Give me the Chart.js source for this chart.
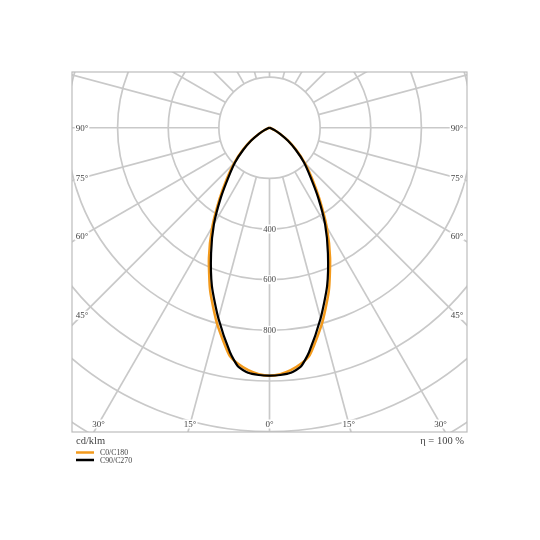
<!DOCTYPE html>
<html>
<head>
<meta charset="utf-8">
<script src="https://cdn.jsdelivr.net/npm/chart.js@4.4.1/dist/chart.umd.min.js"></script>
<style>
html, body { margin: 0; padding: 0; background: #fff; }
#wrap { width: 540px; height: 540px; }
</style>
</head>
<body>
<div id="wrap"><canvas id="ldc" width="540" height="540"></canvas></div>
<script>
// gamma angles (deg from nadir) and intensities in cd/klm, one half of each plane
var angles = [0, 2.5, 5, 7.5, 10, 15, 20, 25, 30, 35, 40, 45, 50, 55, 60, 65, 70, 75, 80, 85, 90];
var c0c180 = [978, 973, 960, 940, 912, 800, 685, 566, 452, 345, 262, 198, 140, 92, 50, 23, 9, 3, 1, 0, 0];
var c90c270 = [978, 976, 970, 950, 899, 779, 665, 546, 439, 334, 250, 192, 135, 88, 48, 22, 8, 3, 1, 0, 0];
var seriesNames = ['C0/C180', 'C90/C270'];
var seriesColors = ['#f39a1c', '#000000'];

var ringValues = [200, 400, 600, 800, 1000, 1200, 1400];
var ringLabels = [400, 600, 800];
var spokeStep = 15;
var sideLabels = [45, 60, 75, 90];
var bottomLabels = [0, 15, 30];
var unitText = 'cd/klm';
var effText = 'η = 100 %';

document.addEventListener('DOMContentLoaded', function () {
    makePolarChart();
});

// mirror a half curve to both sides of the nadir, polar -> x/y values
function polarPoints(values) {
    var pts = [];
    var i, a;
    for (i = angles.length - 1; i > 0; i--) {
        a = -angles[i] * Math.PI / 180;
        pts.push({ x: values[i] * Math.sin(a), y: -values[i] * Math.cos(a) });
    }
    for (i = 0; i < angles.length; i++) {
        a = angles[i] * Math.PI / 180;
        pts.push({ x: values[i] * Math.sin(a), y: -values[i] * Math.cos(a) });
    }
    return pts;
}

function boxedText(ctx, text, x, y, align) {
    ctx.textAlign = align;
    ctx.textBaseline = 'middle';
    var w = ctx.measureText(text).width;
    var left = align === 'center' ? x - w / 2 : (align === 'right' ? x - w : x);
    ctx.fillStyle = '#fff';
    ctx.fillRect(left - 1, y - 4.5, w + 2, 9);
    ctx.fillStyle = '#444';
    ctx.fillText(text, x, y + 0.5);
}

var polarGrid = {
    id: 'polarGrid',
    beforeDatasetsDraw: function (chart) {
        var ctx = chart.ctx;
        var area = chart.chartArea;
        var xs = chart.scales.x, ys = chart.scales.y;
        var cx = xs.getPixelForValue(0), cy = ys.getPixelForValue(0);
        function rad(v) { return xs.getPixelForValue(v) - cx; }

        ctx.save();
        ctx.beginPath();
        ctx.rect(area.left, area.top, area.right - area.left, area.bottom - area.top);
        ctx.clip();
        ctx.strokeStyle = '#c9c9c9';
        ctx.lineWidth = 1.7;
        ringValues.forEach(function (v) {
            ctx.beginPath();
            ctx.arc(cx, cy, rad(v), 0, Math.PI * 2);
            ctx.stroke();
        });
        var r0 = rad(ringValues[0]), r1 = rad(1600);
        for (var a = 0; a < 360; a += spokeStep) {
            var t = a * Math.PI / 180;
            var dx = Math.sin(t), dy = Math.cos(t);
            ctx.beginPath();
            ctx.moveTo(cx + dx * r0, cy + dy * r0);
            ctx.lineTo(cx + dx * r1, cy + dy * r1);
            ctx.stroke();
        }
        ctx.restore();

        ctx.save();
        ctx.strokeStyle = '#bcbcbc';
        ctx.lineWidth = 1.2;
        ctx.strokeRect(area.left, area.top, area.right - area.left, area.bottom - area.top);

        ctx.font = '9px "Liberation Serif"';
        sideLabels.forEach(function (a) {
            var t = a * Math.PI / 180;
            var lx = area.left + 10, rx = area.right - 10;
            var y = cy + (cx - lx) / Math.sin(t) * Math.cos(t);
            boxedText(ctx, a + '°', lx, y, 'center');
            y = cy + (rx - cx) / Math.sin(t) * Math.cos(t);
            boxedText(ctx, a + '°', rx, y, 'center');
        });
        bottomLabels.forEach(function (a) {
            var t = a * Math.PI / 180;
            var by = area.bottom - 8;
            var off = (by - cy) * Math.tan(t);
            boxedText(ctx, a + '°', cx - off, by, 'center');
            if (a !== 0) boxedText(ctx, a + '°', cx + off, by, 'center');
        });
        ctx.font = '8.5px "Liberation Serif"';
        ringLabels.forEach(function (v) {
            boxedText(ctx, String(v), cx, cy + rad(v), 'center');
        });
        ctx.restore();
    },
    afterDraw: function (chart) {
        var ctx = chart.ctx;
        var area = chart.chartArea;
        ctx.save();
        ctx.fillStyle = '#444';
        ctx.textBaseline = 'middle';
        ctx.font = '10.5px "Liberation Serif"';
        ctx.textAlign = 'left';
        ctx.fillText(unitText, area.left + 4, area.bottom + 9);
        ctx.textAlign = 'right';
        ctx.fillText(effText, area.right - 3, area.bottom + 9);
        ctx.font = '7.8px "Liberation Serif"';
        ctx.textAlign = 'left';
        seriesNames.forEach(function (name, i) {
            var y = area.bottom + 20.5 + i * 7.5;
            ctx.strokeStyle = seriesColors[i];
            ctx.lineWidth = 2.5;
            ctx.beginPath();
            ctx.moveTo(area.left + 4, y);
            ctx.lineTo(area.left + 22, y);
            ctx.stroke();
            ctx.fillStyle = '#444';
            ctx.fillText(name, area.left + 28, y + 0.5);
        });
        ctx.restore();
    }
};

function makePolarChart() {
    var canvas = document.getElementById('ldc');
    new Chart(canvas, {
        type: 'scatter',
        data: {
            datasets: [
                {
                    label: seriesNames[0],
                    data: polarPoints(c0c180),
                    showLine: true,
                    borderColor: seriesColors[0],
                    borderWidth: 2.5,
                    pointRadius: 0,
                    tension: 0.2,
                    fill: false,
                    order: 2
                },
                {
                    label: seriesNames[1],
                    data: polarPoints(c90c270),
                    showLine: true,
                    borderColor: seriesColors[1],
                    borderWidth: 2.2,
                    pointRadius: 0,
                    tension: 0.2,
                    fill: false,
                    order: 1
                }
            ]
        },
        options: {
            responsive: false,
            animation: false,
            layout: { padding: { left: 72, top: 72, right: 73, bottom: 108 } },
            scales: {
                x: { type: 'linear', min: -780, max: 780, display: false },
                y: { type: 'linear', min: -1200, max: 220, display: false }
            },
            plugins: {
                legend: { display: false },
                tooltip: { enabled: false }
            }
        },
        plugins: [polarGrid]
    });
}
</script>
</body>
</html>
